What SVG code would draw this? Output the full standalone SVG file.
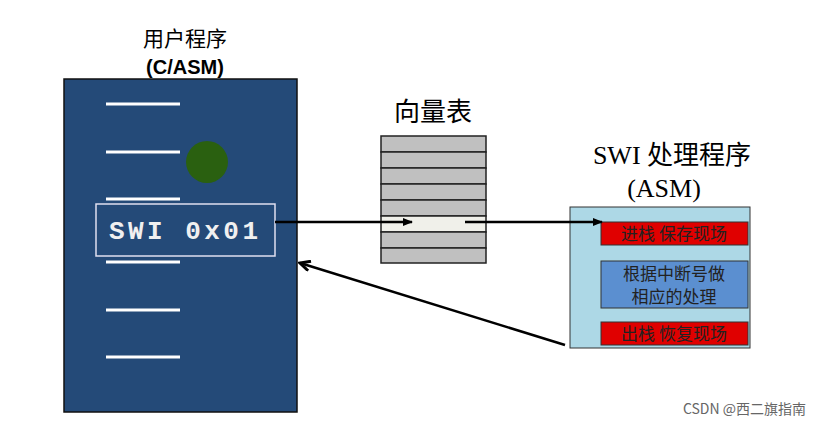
<svg xmlns="http://www.w3.org/2000/svg" width="814" height="427" viewBox="0 0 814 427">
<defs>
<marker id="ah" markerWidth="10" markerHeight="8" refX="9" refY="4" orient="auto" markerUnits="userSpaceOnUse"><path d="M0,0 L10,4 L0,8 Z" fill="#000"/></marker>
<marker id="ao" markerWidth="14" markerHeight="12" refX="12" refY="6" orient="auto" markerUnits="userSpaceOnUse"><path d="M2,1 L12,6 L2,11" fill="none" stroke="#000" stroke-width="3"/></marker>
<style>
.cjk{font-family:"Noto Sans CJK SC","Liberation Sans",sans-serif}
.w{stroke:#fff;stroke-width:3}
.row{fill:#c0c0c0;stroke:#222;stroke-width:1.5}
.red{fill:#e00000;stroke:#333}
</style>
</defs>
<rect width="814" height="427" fill="#fff"/>
<g id="user">
<text x="185" y="46" text-anchor="middle" class="cjk" font-size="21">用户程序</text>
<text x="185" y="74" text-anchor="middle" font-family="Liberation Sans,sans-serif" font-weight="bold" font-size="20">(C/ASM)</text>
<rect x="64" y="79" width="233" height="333" fill="#244a78" stroke="#111" stroke-width="1.5"/>
<line class="w" x1="106" y1="104" x2="180" y2="104"/>
<line class="w" x1="106" y1="152" x2="180" y2="152"/>
<line class="w" x1="106" y1="199" x2="180" y2="199"/>
<line class="w" x1="106" y1="262" x2="180" y2="262"/>
<line class="w" x1="106" y1="310" x2="180" y2="310"/>
<line class="w" x1="106" y1="357" x2="180" y2="357"/>
<circle cx="207" cy="162" r="21" fill="#2a6010"/>
<rect x="96" y="204" width="179" height="52" fill="#244a78" stroke="#e0e0f0" stroke-width="1.5"/>
<text x="109" y="239" font-family="Liberation Mono,monospace" font-weight="bold" font-size="26" fill="#f0f0f0" textLength="149" lengthAdjust="spacing">SWI 0x01</text>
</g>
<g id="vector">
<text x="433" y="121" text-anchor="middle" class="cjk" font-size="26">向量表</text>
<rect class="row" x="381" y="136" width="105" height="16"/>
<rect class="row" x="381" y="152" width="105" height="16"/>
<rect class="row" x="381" y="168" width="105" height="16"/>
<rect class="row" x="381" y="184" width="105" height="16"/>
<rect class="row" x="381" y="200" width="105" height="16"/>
<rect x="381" y="216" width="105" height="16" fill="#f0f0ea" stroke="#222" stroke-width="1.5"/>
<rect class="row" x="381" y="232" width="105" height="16"/>
<rect class="row" x="381" y="248" width="105" height="15"/>
</g>
<g id="handler">
<text x="672" y="164" text-anchor="middle" class="cjk" font-size="26"><tspan font-family="Liberation Serif,serif">SWI </tspan>处理程序</text>
<text x="664" y="197" text-anchor="middle" font-family="Liberation Serif,serif" font-size="26">(ASM)</text>
<rect x="570" y="207" width="180" height="141" fill="#add8e6" stroke="#333"/>
<rect class="red" x="601" y="222" width="147" height="23"/>
<text x="674" y="240" text-anchor="middle" class="cjk" font-size="17" fill="#222">进栈 保存现场</text>
<rect x="601" y="261" width="147" height="47" fill="#5b8fd0" stroke="#333"/>
<text x="674" y="280" text-anchor="middle" class="cjk" font-size="17" fill="#222">根据中断号做</text>
<text x="674" y="303" text-anchor="middle" class="cjk" font-size="17" fill="#222">相应的处理</text>
<rect class="red" x="601" y="322" width="147" height="23"/>
<text x="674" y="340" text-anchor="middle" class="cjk" font-size="17" fill="#222">出栈 恢复现场</text>
</g>
<g id="connectors" stroke="#000" stroke-width="2.5" fill="none">
<line x1="275" y1="222" x2="412" y2="222" marker-end="url(#ah)"/>
<line x1="465" y1="222" x2="602" y2="222" marker-end="url(#ah)"/>
<line x1="565" y1="345" x2="300" y2="263" marker-end="url(#ao)"/>
</g>
<text x="806" y="414" text-anchor="end" class="cjk" font-size="14" fill="#666">CSDN @西二旗指南</text>
</svg>
